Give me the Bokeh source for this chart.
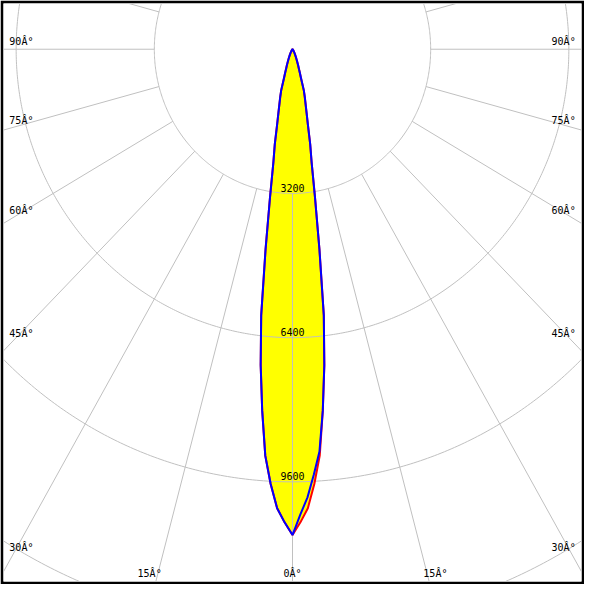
import numpy as np
from bokeh.plotting import figure
from bokeh.models import Range1d
from bokeh.embed import file_html
from bokeh.resources import INLINE
from bokeh.core.properties import value

# ---------------- data ----------------
# gamma angles (deg) and luminous intensity (cd)
gamma_deg = [0, 1, 2, 3, 4, 5, 6, 7, 8, 9, 10, 11, 12, 13, 14, 15, 16, 17, 18, 19,
             20, 22, 24, 26, 28, 30, 35, 40, 50, 60, 70, 80, 90]
# C0-C180 plane (red), symmetric
c0_cd = [10780, 10500, 10190, 9660, 9040, 8050, 7050, 5950, 4480, 3330,
         2550, 2150, 1720, 1450, 1250, 1100, 950, 680, 550, 450,
         380, 270, 200, 140, 100, 70, 35, 20, 10, 5, 3, 1, 0]
# C90-C270 plane (blue): left half (C270) and right half (C90)
c270_cd = [10780, 10500, 10190, 9660, 9040, 8050, 7050, 5950, 4480, 3330,
           2550, 2150, 1720, 1450, 1250, 1100, 950, 680, 550, 450,
           380, 270, 200, 140, 100, 70, 35, 20, 10, 5, 3, 1, 0]
c90_cd = [10780, 10330, 9950, 9450, 8950, 8050, 7050, 5950, 4480, 3330,
          2550, 2150, 1720, 1450, 1250, 1100, 950, 680, 550, 450,
          380, 270, 200, 140, 100, 70, 35, 20, 10, 5, 3, 1, 0]

ring_values = [3200, 6400, 9600, 12800, 16000]
ring_labels = ["3200", "6400", "9600"]
grid_angles = list(range(0, 360, 15))
side_angles = [90, 75, 60, 45, 30]
bottom_angles = [15, 0, 15]
bottom_sides = [-1, 0, 1]

# ---------------- layout (reference pixel geometry) ----------------
CX, CY = 300.0, 50.0            # pole position in a 600x600 picture
SX = 3200 / 142.0               # cd per pixel horizontally
SY = 3200 / 148.2               # cd per pixel vertically
B = 3                           # black frame width


def px_x(px):
    return (px - CX) * SX


def px_y(py):
    return (CY - py) * SY


p = figure(width=584, height=584,
           x_range=Range1d(px_x(B), px_x(600 - B)),
           y_range=Range1d(px_y(600 - B), px_y(B)),
           output_backend="svg", toolbar_location=None,
           x_axis_type=None, y_axis_type=None,
           min_border=B, border_fill_color="black",
           background_fill_color="white", outline_line_color=None)
p.xgrid.visible = False
p.ygrid.visible = False


def curve(left, right):
    g = np.radians(np.array(gamma_deg, dtype=float))
    L = np.array(left, dtype=float)
    R = np.array(right, dtype=float)
    xl = -L * np.sin(g)
    yl = -L * np.cos(g)
    xr = R * np.sin(g)
    yr = -R * np.cos(g)
    xs = np.concatenate([xl[::-1], xr[1:]])
    ys = np.concatenate([yl[::-1], yr[1:]])
    return xs, ys


rx, ry = curve(c0_cd, c0_cd)
bx, by = curve(c270_cd, c90_cd)

# yellow fill
p.patch(rx, ry, fill_color="#ffff00", line_color=None)
p.patch(bx, by, fill_color="#ffff00", line_color=None)

# grid rings (drawn in data space -> slightly elliptical on screen)
t = np.linspace(0, 2 * np.pi, 721)
ring_xs = [list(r * np.sin(t)) for r in ring_values]
ring_ys = [list(-r * np.cos(t)) for r in ring_values]
p.multi_line(ring_xs, ring_ys, line_color="#c0c0c0", line_width=1)

# radial lines from the first ring outward
r0, r1 = ring_values[0], 30000
rad_xs, rad_ys = [], []
for a in grid_angles:
    ar = np.radians(a)
    rad_xs.append([r0 * np.sin(ar), r1 * np.sin(ar)])
    rad_ys.append([-r0 * np.cos(ar), -r1 * np.cos(ar)])
p.multi_line(rad_xs, rad_ys, line_color="#c0c0c0", line_width=1)

# curves
p.line(rx, ry, line_color="#ff0000", line_width=2)
p.line(bx, by, line_color="#0000ff", line_width=2)

font = value("DejaVu Sans Mono")

# ring labels
p.text(x=[0.0] * len(ring_labels),
       y=[-v + 6 * SY for v in ring_values[:len(ring_labels)]],
       text=ring_labels, text_align="center", text_baseline="middle",
       text_font=font, text_font_size="10px", text_color="black")

# angle labels on the sides
lx, ly, lt, rx_, ry_ = [], [], [], [], []
for a in side_angles:
    ar = np.radians(a)
    ypx = CY + CX * np.cos(ar) / np.sin(ar) - 7.5
    lx.append(px_x(9))
    ly.append(px_y(ypx))
    lt.append(f"{a}Â°")
    rx_.append(px_x(591))
    ry_.append(px_y(ypx))
p.text(x=lx, y=ly, text=lt, text_align="left", text_baseline="middle",
       text_font=font, text_font_size="10px", text_color="black")
p.text(x=rx_, y=ry_, text=lt, text_align="right", text_baseline="middle",
       text_font=font, text_font_size="10px", text_color="black")

# angle labels along the bottom
bx_, by_, bt = [], [], []
for a, s in zip(bottom_angles, bottom_sides):
    ar = np.radians(a)
    bx_.append(px_x(CX + s * (598 - CY) * np.tan(ar)))
    by_.append(px_y(589))
    bt.append(f"{a}Â°")
p.text(x=bx_, y=by_, text=bt, text_align="center", text_baseline="middle",
       text_font=font, text_font_size="10px", text_color="black")

open("out.html", "w").write(file_html(p, INLINE))
